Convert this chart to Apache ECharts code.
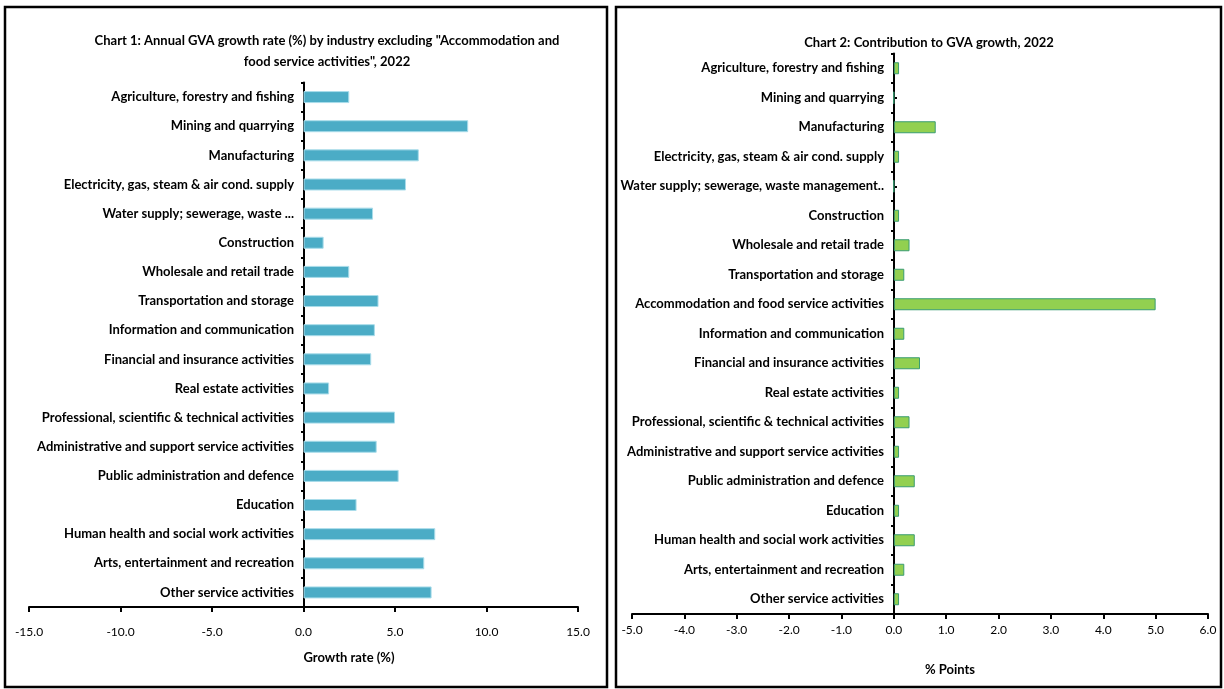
<!DOCTYPE html>
<html>
<head>
<meta charset="utf-8">
<script src="https://cdn.jsdelivr.net/npm/echarts@6/dist/echarts.min.js"></script>
<style>
html,body{margin:0;padding:0;background:#fff;}
#c{width:1224px;height:689px;}
</style>
</head>
<body>
<div id="c"></div>
<script>
var FONT = 'Lato,"Liberation Sans",Arial,sans-serif';

var categories1 = [
  'Agriculture, forestry and fishing',
  'Mining and quarrying',
  'Manufacturing',
  'Electricity, gas, steam & air cond. supply',
  'Water supply; sewerage, waste ...',
  'Construction',
  'Wholesale and retail trade',
  'Transportation and storage',
  'Information and communication',
  'Financial and insurance activities',
  'Real estate activities',
  'Professional, scientific & technical activities',
  'Administrative and support service activities',
  'Public administration and defence',
  'Education',
  'Human health and social work activities',
  'Arts, entertainment and recreation',
  'Other service activities'
];
var growthRate = [2.5, 9.0, 6.3, 5.6, 3.8, 1.1, 2.5, 4.1, 3.9, 3.7, 1.4, 5.0, 4.0, 5.2, 2.9, 7.2, 6.6, 7.0];

var categories2 = [
  'Agriculture, forestry and fishing',
  'Mining and quarrying',
  'Manufacturing',
  'Electricity, gas, steam & air cond. supply',
  'Water supply; sewerage, waste management..',
  'Construction',
  'Wholesale and retail trade',
  'Transportation and storage',
  'Accommodation and food service activities',
  'Information and communication',
  'Financial and insurance activities',
  'Real estate activities',
  'Professional, scientific & technical activities',
  'Administrative and support service activities',
  'Public administration and defence',
  'Education',
  'Human health and social work activities',
  'Arts, entertainment and recreation',
  'Other service activities'
];
var contribution = [0.1, 0.0, 0.8, 0.1, 0.0, 0.1, 0.3, 0.2, 5.0, 0.2, 0.5, 0.1, 0.3, 0.1, 0.4, 0.1, 0.4, 0.2, 0.1];

var title1Lines = ['Chart 1: Annual GVA growth rate (%) by industry excluding "Accommodation and', 'food service activities", 2022'];
var title2 = 'Chart 2: Contribution to GVA growth, 2022';
var xName1 = 'Growth rate (%)';
var xName2 = '% Points';

var chart = echarts.init(document.getElementById('c'));

function valAxis(gridIndex, min, max, interval, margin) {
  return {
    type: 'value', gridIndex: gridIndex, min: min, max: max, interval: interval,
    axisLine: {show: true, onZero: false, lineStyle: {color: '#000', width: 2}},
    axisTick: {show: true, length: 5, lineStyle: {color: '#000', width: 2}},
    splitLine: {show: false},
    axisLabel: {margin: margin, color: '#000', fontFamily: FONT, fontSize: 12,
      formatter: function (v) { return v.toFixed(1); }}
  };
}
function catAxis(gridIndex, data, offset) {
  return {
    type: 'category', gridIndex: gridIndex, data: data, inverse: true,
    position: 'left', offset: offset,
    axisLine: {show: true, onZero: false, lineStyle: {color: '#000', width: 2}},
    axisTick: {show: true, length: 3, lineStyle: {color: '#000', width: 2}},
    axisLabel: {margin: 10, color: '#000', fontFamily: FONT, fontSize: 13, fontWeight: 'bold'}
  };
}

var option = {
  animation: false,
  backgroundColor: '#fff',
  grid: [
    {left: 29, right: 1224 - 578, top: 82.5, bottom: 689 - 607, containLabel: false, outerBoundsMode: 'none'},
    {left: 632, right: 1224 - 1208, top: 53.5, bottom: 689 - 614, containLabel: false, outerBoundsMode: 'none'}
  ],
  xAxis: [
    valAxis(0, -15, 15, 5, 19),
    valAxis(1, -5, 6, 1, 10)
  ],
  yAxis: [
    catAxis(0, categories1, -275),
    catAxis(1, categories2, -262),
    {
      type: 'category', gridIndex: 1, data: categories2, inverse: true,
      position: 'left', offset: -262,
      axisLine: {show: false, onZero: false},
      axisTick: {show: true, inside: true, alignWithLabel: true, length: 3, lineStyle: {color: '#000', width: 2}},
      axisLabel: {show: false}
    }
  ],
  series: [
    {
      type: 'bar', xAxisIndex: 0, yAxisIndex: 0, data: growthRate, barWidth: 12,
      itemStyle: {color: '#4BACC6', borderColor: '#A9DCEA', borderWidth: 1}
    },
    {
      type: 'bar', xAxisIndex: 1, yAxisIndex: 1, data: contribution, barWidth: 12,
      itemStyle: {color: '#92D050', borderColor: '#3A9C72', borderWidth: 1}
    }
  ],
  graphic: [
    {type: 'rect', shape: {x: 5, y: 7, width: 602, height: 680}, style: {fill: 'none', stroke: '#000', lineWidth: 2.5}, silent: true},
    {type: 'rect', shape: {x: 616, y: 7, width: 605, height: 680}, style: {fill: 'none', stroke: '#000', lineWidth: 2.5}, silent: true},
    {type: 'text', x: 327, y: 41, style: {text: title1Lines[0], textAlign: 'center', textVerticalAlign: 'middle', font: 'bold 13px ' + FONT, fill: '#000'}},
    {type: 'text', x: 327, y: 62, style: {text: title1Lines[1], textAlign: 'center', textVerticalAlign: 'middle', font: 'bold 13px ' + FONT, fill: '#000'}},
    {type: 'text', x: 929, y: 43, style: {text: title2, textAlign: 'center', textVerticalAlign: 'middle', font: 'bold 13px ' + FONT, fill: '#000'}},
    {type: 'text', x: 349, y: 658, style: {text: xName1, textAlign: 'center', textVerticalAlign: 'middle', font: 'bold 13px ' + FONT, fill: '#000'}},
    {type: 'text', x: 950, y: 670, style: {text: xName2, textAlign: 'center', textVerticalAlign: 'middle', font: 'bold 13px ' + FONT, fill: '#000'}}
  ]
};
chart.setOption(option);
</script>
</body>
</html>
